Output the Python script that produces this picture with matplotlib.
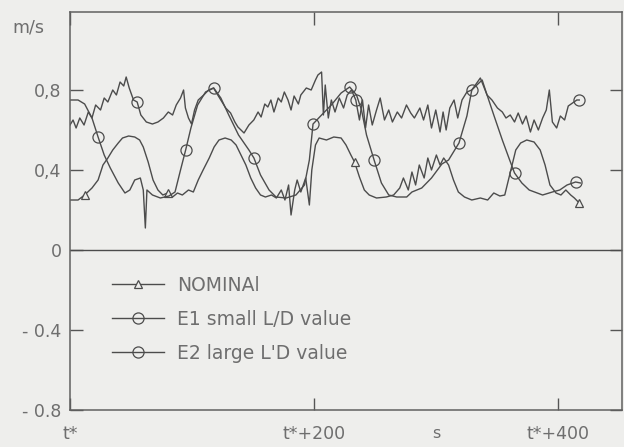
import matplotlib
matplotlib.use("Agg")
import matplotlib.pyplot as plt
import numpy as np

# ---- data (time in s after t*, velocity in m/s) ----
nom_t = [0, 6.6, 12, 18, 23, 27, 31, 35, 39.5, 43, 48, 53, 57, 60, 64, 68, 72, 76, 80, 84, 88, 92, 97, 101,
         105, 109, 114, 118, 122, 127, 132, 136, 140, 144, 148, 152, 156, 160, 165, 169, 173, 176, 179, 181,
         184, 186, 189, 193, 196, 198, 201, 204, 210, 216, 222, 226, 230, 233, 237, 241, 245, 251, 259, 265,
         270, 273, 277, 280, 283, 286, 290, 293, 296, 300, 303, 306, 310, 314, 318, 323, 329, 336, 342, 347,
         352, 356, 360, 365, 369, 374, 380, 385, 389, 393, 398, 402, 406, 410, 413, 417]
nom_v = [0.25, 0.25, 0.275, 0.31, 0.35, 0.425, 0.46, 0.50, 0.535, 0.56, 0.57, 0.565, 0.55, 0.515, 0.44, 0.35,
         0.30, 0.275, 0.285, 0.265, 0.285, 0.275, 0.30, 0.29, 0.35, 0.40, 0.46, 0.515, 0.55, 0.56, 0.55, 0.525,
         0.475, 0.425, 0.36, 0.31, 0.275, 0.265, 0.275, 0.26, 0.30, 0.25, 0.325, 0.175, 0.30, 0.35, 0.29, 0.36,
         0.225, 0.40, 0.525, 0.56, 0.55, 0.565, 0.56, 0.525, 0.475, 0.44, 0.365, 0.30, 0.275, 0.26, 0.265,
         0.275, 0.31, 0.36, 0.30, 0.39, 0.325, 0.425, 0.36, 0.46, 0.40, 0.475, 0.425, 0.46, 0.425, 0.35, 0.29,
         0.265, 0.25, 0.26, 0.25, 0.285, 0.27, 0.275, 0.375, 0.50, 0.535, 0.55, 0.54, 0.50, 0.425, 0.325,
         0.285, 0.275, 0.30, 0.275, 0.26, 0.235]

e1_t = [0, 2.5, 5, 8, 11.5, 15, 18, 21, 25, 28, 31, 35, 38, 41, 44, 46, 48.5, 52, 55, 58, 62.5, 67.5, 72,
        76.5, 80.5, 84, 87, 90.5, 93, 94.5, 97, 99.5, 102, 105, 109.5, 113.5, 117.5, 123.5, 127.5, 131.5, 135,
        137.5, 142.5, 146.5, 150.5, 154, 156.5, 159.5, 162, 164.5, 167, 170.5, 173, 175.5, 178.5, 181, 183.5,
        187, 189, 193.5, 197.5, 201, 203, 206, 207.5, 209, 211.5, 214, 217, 220.5, 224, 227, 230.5, 234, 237,
        239.5, 242, 244.5, 247.5, 251, 254, 257.5, 261, 264, 268, 271.5, 275.5, 279, 282, 286.5, 289.5, 293,
        296, 299.5, 303, 305.5, 308, 311, 314.5, 317.5, 321, 325, 329, 334, 337.5, 341.5, 345.5, 350, 354,
        357, 360.5, 364, 367, 370.5, 373.5, 377, 380, 383.5, 387, 390, 392.5, 395, 398.5, 401.5, 405, 408,
        411.5, 415, 417]
e1_v = [0.625, 0.65, 0.61, 0.66, 0.625, 0.69, 0.66, 0.725, 0.70, 0.76, 0.74, 0.80, 0.775, 0.84, 0.82, 0.865,
        0.81, 0.75, 0.74, 0.675, 0.64, 0.63, 0.64, 0.66, 0.69, 0.675, 0.725, 0.76, 0.80, 0.71, 0.66, 0.63,
        0.70, 0.75, 0.775, 0.80, 0.81, 0.75, 0.71, 0.685, 0.64, 0.615, 0.585, 0.625, 0.65, 0.69, 0.665, 0.73,
        0.715, 0.75, 0.69, 0.76, 0.74, 0.79, 0.75, 0.70, 0.77, 0.73, 0.775, 0.81, 0.80, 0.85, 0.875, 0.89,
        0.675, 0.825, 0.66, 0.75, 0.69, 0.76, 0.71, 0.775, 0.80, 0.75, 0.65, 0.75, 0.61, 0.725, 0.625, 0.70,
        0.76, 0.65, 0.70, 0.64, 0.69, 0.66, 0.725, 0.685, 0.66, 0.71, 0.65, 0.725, 0.61, 0.70, 0.59, 0.69,
        0.60, 0.71, 0.75, 0.66, 0.75, 0.79, 0.80, 0.83, 0.85, 0.775, 0.75, 0.71, 0.69, 0.66, 0.675, 0.64,
        0.685, 0.63, 0.67, 0.59, 0.65, 0.60, 0.66, 0.70, 0.80, 0.64, 0.61, 0.67, 0.65, 0.72, 0.735, 0.75, 0.75]

e2_t = [0, 6.6, 12, 18, 23, 28, 33, 39.5, 45, 49, 53, 57.6, 60, 61.7, 63, 67.5, 74, 81, 86, 90.5, 94.7, 99,
        104.5, 111, 117.7, 123.5, 130, 138, 146.5, 150.6, 156, 163, 168.7, 177, 185, 192, 196, 199, 206, 214,
        222, 229, 234.6, 238.7, 242.8, 249, 255, 261, 267.5, 275.7, 280, 288, 296, 304.5, 310, 318.5, 325,
        329, 336, 341.5, 347, 354, 360, 364, 370, 376, 387, 395, 401, 407, 414, 418]
e2_v = [0.75, 0.75, 0.73, 0.66, 0.565, 0.475, 0.41, 0.335, 0.285, 0.30, 0.35, 0.36, 0.30, 0.11, 0.30, 0.275,
        0.26, 0.27, 0.29, 0.40, 0.50, 0.61, 0.725, 0.79, 0.81, 0.76, 0.675, 0.575, 0.50, 0.46, 0.375, 0.30,
        0.265, 0.26, 0.275, 0.325, 0.45, 0.63, 0.675, 0.725, 0.785, 0.815, 0.775, 0.70, 0.575, 0.45, 0.335,
        0.275, 0.265, 0.265, 0.29, 0.31, 0.36, 0.43, 0.45, 0.535, 0.67, 0.80, 0.86, 0.775, 0.675, 0.55, 0.45,
        0.385, 0.335, 0.30, 0.275, 0.29, 0.30, 0.325, 0.34, 0.335]

labels = ["NOMINAl", "E1 small L/D value", "E2 large L'D value"]
yticks = [0.8, 0.4, 0, -0.4, -0.8]
ytick_labels = ["0,8", "0,4", "0", "- 0.4", "- 0.8"]
xticks = [0, 200, 400]
xtick_labels = ["t*", "t*+200", "t*+400"]

# ---- styling ----
bg = "#eeeeec"
lc = "#4c4c4c"
tc = "#6e6e6e"

fig = plt.figure(figsize=(6.24, 4.47), dpi=100, facecolor=bg)
ax = fig.add_axes([70/624, 37/447, 552/624, 398/447], facecolor=bg)

ax.plot(nom_t, nom_v, color=lc, lw=1.0, marker="^", ms=6, mfc=bg, mec=lc, mew=0.9,
        markevery=[2, 18, 57, len(nom_t) - 1], label=labels[0])
ax.plot(e1_t, e1_v, color=lc, lw=1.0, marker="o", ms=8, mfc="none", mec=lc, mew=0.9,
        markevery=[18, 73, len(e1_t) - 1], label=labels[1])
ax.plot(e2_t, e2_v, color=lc, lw=1.0, marker="o", ms=8, mfc="none", mec=lc, mew=0.9,
        markevery=[4, 20, 24, 29, 37, 41, 45, 55, 57, 63, 70], label=labels[2])

ax.axhline(0, color=lc, lw=1.0)

ax.set_xlim(0, 452)
ax.set_ylim(-0.8, 1.19)

ax.set_yticks(yticks, ytick_labels)
ax.set_xticks(xticks, xtick_labels)
ax.tick_params(axis="both", direction="in", length=9, width=1.0, color="#555555",
               labelcolor=tc, labelsize=12.5, top=True, right=True)
ax.tick_params(axis="x", pad=11)
ax.tick_params(axis="y", pad=6)
for s in ax.spines.values():
    s.set_color("#606060")
    s.set_linewidth(1.1)

fig.text(12/624, 1 - 33/447, "m/s", color=tc, fontsize=12.5)
ax.text(300, -0.915, "s", color=tc, fontsize=11.5, ha="center", va="center")

leg = ax.legend(loc="upper left", bbox_to_anchor=(0.045, 0.38), frameon=False,
                fontsize=13.5, labelcolor=tc, handlelength=2.8, labelspacing=0.8,
                handletextpad=0.7)

fig.savefig("out.png", dpi=100, facecolor=bg)
